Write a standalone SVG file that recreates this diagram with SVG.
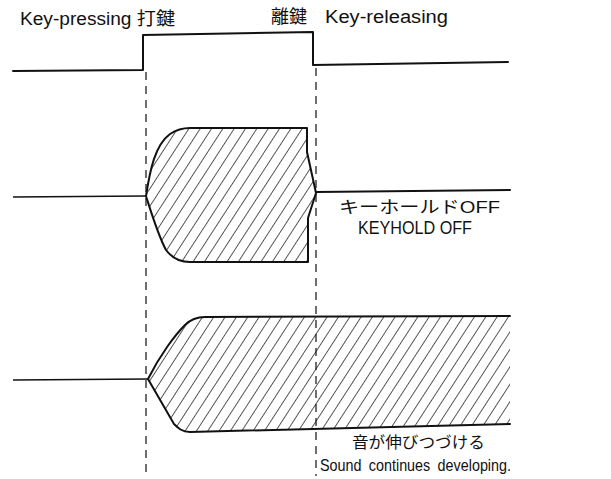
<svg xmlns="http://www.w3.org/2000/svg" width="611" height="479" viewBox="0 0 611 479">
<style>
  .ln { fill: none; stroke: #111; stroke-width: 2; stroke-linejoin: round; stroke-linecap: round; }
  .thin { fill: none; stroke: #111; stroke-width: 1.5; }
  .dash { fill: none; stroke: #222; stroke-width: 1.3; stroke-dasharray: 8 6; }
  .env { fill: url(#hatch); stroke: none; }
  .t { font-family: "Liberation Sans", "Noto Sans CJK JP", sans-serif; font-size: 18px; fill: #111; }
  .s { font-size: 16px; }
</style>
<defs>
  <pattern id="hatch" patternUnits="userSpaceOnUse" width="9.5" height="40" patternTransform="rotate(33)">
    <line x1="0" y1="-5" x2="0" y2="45" stroke="#111" stroke-width="1.4"/>
  </pattern>
</defs>
<rect width="611" height="479" fill="#fff"/>

<g id="connectors">
  <line class="dash" x1="146" y1="72" x2="146" y2="476"/>
  <line class="dash" x1="316" y1="68" x2="316" y2="476"/>
</g>

<g id="key-signal">
  <path class="ln" d="M13,71 L143,70 L143,35 L313,32 L313,65 L508,62"/>
  <text class="t" x="20" y="25" textLength="155" lengthAdjust="spacingAndGlyphs">Key-pressing 打鍵</text>
  <text class="t" x="271" y="23" textLength="36" lengthAdjust="spacingAndGlyphs">離鍵</text>
  <text class="t" x="325" y="23" textLength="123" lengthAdjust="spacingAndGlyphs">Key-releasing</text>
</g>

<g id="keyhold-off">
  <path class="env" d="M146,196 C150,170 155,145 170,134 C176,130 182,128 190,128 L307,128 L307,152 L316,193 L308,218 L308,262 L190,262 C180,262 172,258 166,250 C158,235 152,215 146,196 Z"/>
  <path class="ln" d="M146,196 C150,170 155,145 170,134 C176,130 182,128 190,128 L307,128 L307,152 L316,193 L308,218 L308,262 L190,262 C180,262 172,258 166,250 C158,235 152,215 146,196 Z"/>
  <line class="thin" x1="13" y1="197" x2="146" y2="196"/>
  <line class="ln" x1="316" y1="192" x2="510" y2="190"/>
  <text class="t" x="339" y="213" textLength="161" lengthAdjust="spacingAndGlyphs" style="font-size:17px">キーホールドOFF</text>
  <text class="t" x="358" y="234" textLength="114" lengthAdjust="spacingAndGlyphs" style="font-size:18px">KEYHOLD OFF</text>
</g>

<g id="keyhold-on">
  <path class="env" d="M148,379 C160,355 175,335 185,325 C191,319 197,317 205,317 L510,316 L510,424 L190,432 C182,432 178,428 174,424 Z"/>
  <path class="ln" d="M510,316 L205,317 C197,317 191,319 185,325 C175,335 160,355 148,379 L174,424 C178,428 182,432 190,432 L510,424"/>
  <line class="thin" x1="13" y1="380" x2="148" y2="379"/>
  <text class="t s" x="352" y="448" textLength="133" lengthAdjust="spacingAndGlyphs">音が伸びつづける</text>
  <text class="t" x="320" y="471" textLength="191" lengthAdjust="spacingAndGlyphs" style="font-size:17px;word-spacing:4px">Sound continues developing.</text>
</g>
</svg>
